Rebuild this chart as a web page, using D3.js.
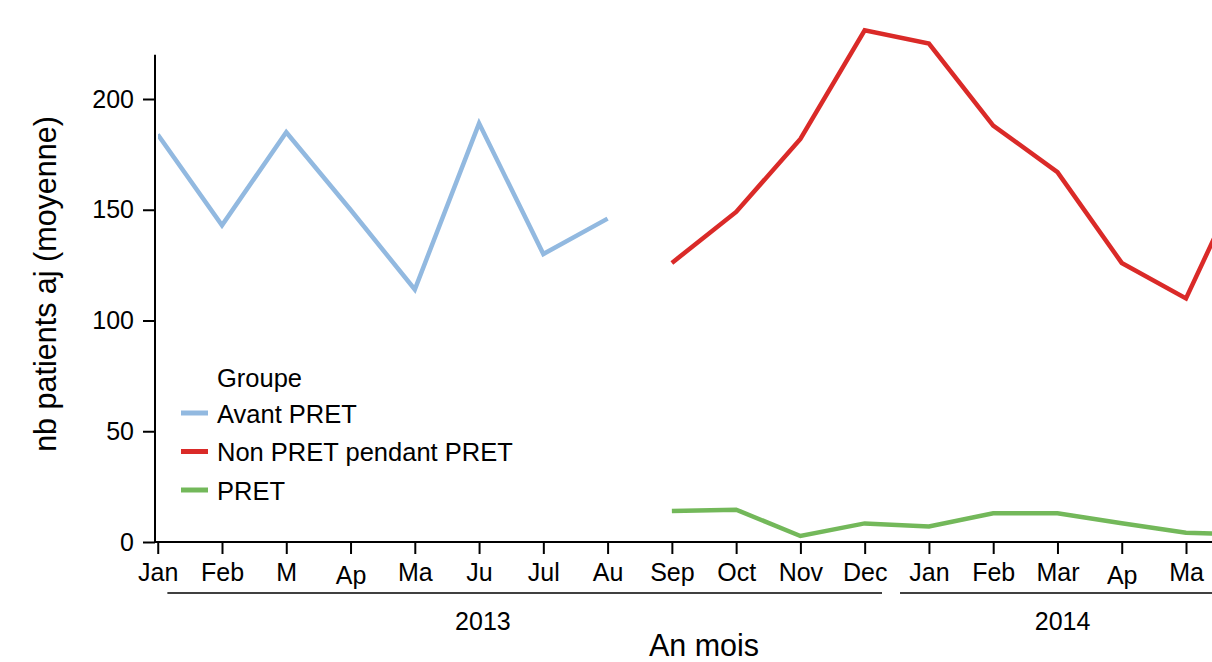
<!DOCTYPE html>
<html>
<head>
<meta charset="utf-8">
<script src="https://cdn.jsdelivr.net/npm/d3@7"></script>
<style>
  html, body { margin: 0; padding: 0; background: #fff; overflow: hidden; }
  svg { display: block; font-family: "Liberation Sans", Arial, sans-serif; }
</style>
</head>
<body>
<svg id="chart" width="1212" height="662"></svg>
<script>
// ---- data ----
const monthLabels = ["Jan","Feb","M","Ap","Ma","Ju","Jul","Au","Sep","Oct","Nov","Dec","Jan","Feb","Mar","Ap","Ma"];
const avantPRET   = [184, 143, 185, 150, 114, 189, 130, 146, null, null, null, null, null, null, null, null, null, null];
const nonPRET     = [null, null, null, null, null, null, null, null, 126, 149, 182, 231, 225, 188, 167, 126, 110, 172];
const pret        = [null, null, null, null, null, null, null, null, 14, 14.6, 2.7, 8.4, 7, 13, 13, 8.5, 4.2, 3.4];
const seriesNames = ["Avant PRET", "Non PRET pendant PRET", "PRET"];
const seriesColors = ["#92b9e0", "#da2a28", "#73b85a"];
const yTicks = [0, 50, 100, 150, 200];
const years = ["2013", "2014"];
const yearLabelAt = [5.06, 14.08];
const yearSpan = [[0.15, 11.27], [11.55, 20]];

const svg = d3.select("#chart");
const x = d3.scaleLinear().domain([1, 16]).range([222, 1186]);
const y = d3.scaleLinear().domain([0, 200]).range([542, 99]);
const axisX = 155;
const fs = 25;

// clip
svg.append("defs").append("clipPath").attr("id", "clip")
  .append("rect").attr("x", axisX + 3).attr("y", 0).attr("width", 1212).attr("height", 542);

// y axis
const yAxis = d3.axisLeft(y).tickValues(yTicks).tickSize(12).tickPadding(9).tickFormat(d3.format("d"));
const gy = svg.append("g").attr("transform", `translate(${axisX},0)`).call(yAxis);
gy.select(".domain").attr("d", `M0,${y(220)}V${y(0)}`);
gy.selectAll("line,path").attr("stroke", "#000").attr("stroke-width", 2);
gy.selectAll("text").attr("font-size", fs).attr("fill", "#000")
  .attr("font-family", "'Liberation Sans', Arial, sans-serif");

// x axis
const idx = d3.range(monthLabels.length);
const xAxis = d3.axisBottom(x).tickValues(idx).tickSize(12).tickPadding(9)
  .tickFormat(i => monthLabels[i]);
const gx = svg.append("g").attr("transform", `translate(0,${y(0)})`).call(xAxis);
gx.select(".domain").attr("d", `M${axisX},0H1300`);
gx.selectAll("line,path").attr("stroke", "#000").attr("stroke-width", 2);
gx.selectAll("text").attr("font-size", fs).attr("fill", "#000")
  .attr("font-family", "'Liberation Sans', Arial, sans-serif")
  .attr("dy", (i) => monthLabels[i] === "Ap" ? "0.85em" : "0.71em");

// year grouping
years.forEach((yr, k) => {
  svg.append("line")
    .attr("x1", x(yearSpan[k][0])).attr("x2", x(yearSpan[k][1]))
    .attr("y1", 593).attr("y2", 593)
    .attr("stroke", "#000").attr("stroke-width", 1.3);
  svg.append("text").attr("x", x(yearLabelAt[k])).attr("y", 630)
    .attr("text-anchor", "middle").attr("font-size", fs).text(yr);
});

// axis titles
svg.append("text").attr("x", 704).attr("y", 656).attr("text-anchor", "middle")
  .attr("font-size", 30.5).text("An mois");
svg.append("text").attr("transform", `translate(56,${284}) rotate(-90)`)
  .attr("text-anchor", "middle").attr("font-size", 30.5).text("nb patients aj (moyenne)");

// lines
const line = d3.line().defined(d => d[1] != null).x(d => x(d[0])).y(d => y(d[1]));
const all = [avantPRET, nonPRET, pret];
const gl = svg.append("g").attr("clip-path", "url(#clip)");
all.forEach((s, k) => {
  gl.append("path").datum(s.map((v, i) => [i, v]))
    .attr("d", line).attr("fill", "none")
    .attr("stroke", seriesColors[k]).attr("stroke-width", 4.5)
    .attr("stroke-linejoin", "miter");
});

// legend
const lg = svg.append("g");
lg.append("text").attr("x", 217).attr("y", 387).attr("font-size", 25.5).text("Groupe");
seriesNames.forEach((n, k) => {
  const cy = 413 + k * 38.5;
  lg.append("line").attr("x1", 181).attr("x2", 208).attr("y1", cy).attr("y2", cy)
    .attr("stroke", seriesColors[k]).attr("stroke-width", 5);
  lg.append("text").attr("x", 217).attr("y", cy + 9.5).attr("font-size", 25.5).text(n);
});
</script>
</body>
</html>
